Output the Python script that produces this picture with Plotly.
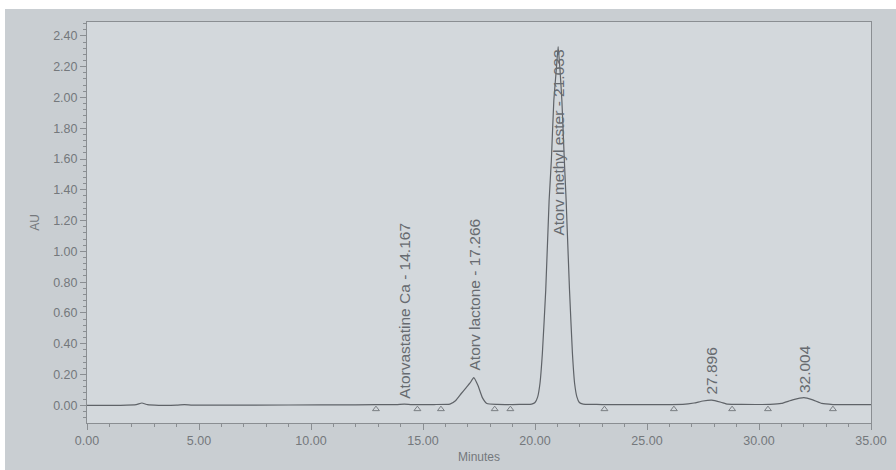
import plotly.graph_objects as go

# Chromatogram trace (minutes, AU)
time_min = [0.0, 1.5, 2.2, 2.45, 2.7, 3.2, 4.0, 4.35, 4.7, 6.0, 9.0, 12.0, 13.8, 14.167, 14.5,
            15.5, 16.2, 16.45, 16.7, 16.9, 17.1, 17.266, 17.45, 17.65, 17.85, 18.3, 19.0, 19.6,
            19.85, 20.0, 20.12, 20.22, 20.33, 20.48, 20.63, 20.73, 20.84, 20.95, 21.033, 21.12, 21.2, 21.31,
            21.39, 21.54, 21.67, 21.77, 21.87, 21.98, 22.15, 22.5, 23.0, 25.0, 26.6, 27.1, 27.5, 27.896, 28.3, 28.6,
            29.2, 30.5, 31.0, 31.5, 32.004, 32.4, 32.8, 33.3, 34.0, 35.0]
absorbance_au = [0.0, 0.0, 0.004, 0.015, 0.004, 0.0, 0.001, 0.005, 0.001, 0.001, 0.002, 0.003, 0.005, 0.008, 0.005,
                 0.005, 0.008, 0.03, 0.075, 0.11, 0.145, 0.18, 0.13, 0.05, 0.012, 0.006, 0.005, 0.006,
                 0.008, 0.018, 0.055, 0.14, 0.34, 0.75, 1.33, 1.59, 1.98, 2.18, 2.33, 2.17, 1.98, 1.59,
                 1.33, 0.75, 0.34, 0.14, 0.055, 0.018, 0.008, 0.006, 0.005, 0.005, 0.006, 0.015, 0.028, 0.033, 0.02, 0.008,
                 0.006, 0.006, 0.012, 0.035, 0.05, 0.035, 0.012, 0.005, 0.004, 0.004]

# Integration baseline markers (minutes)
marker_times = [12.9, 14.75, 15.8, 18.2, 18.9, 23.1, 26.2, 28.8, 30.4, 33.3]

# Peak labels
peak_labels = ["Atorvastatine Ca - 14.167", "Atorv lactone - 17.266", "Atorv methyl ester - 21.033",
               "27.896", "32.004"]
label_x = [14.2, 17.3, 21.03, 27.87, 32.0]
label_y = [0.03, 0.21, 1.09, 0.055, 0.065]

x_ticks = [0, 5, 10, 15, 20, 25, 30, 35]
y_ticks = [0.0, 0.2, 0.4, 0.6, 0.8, 1.0, 1.2, 1.4, 1.6, 1.8, 2.0, 2.2, 2.4]

ink = "#676b70"
font_family = "Liberation Sans, Arial, sans-serif"

fig = go.Figure()
fig.add_trace(go.Scatter(x=time_min, y=absorbance_au, mode="lines",
                         line=dict(color="#5f6368", width=1.2, shape="spline", smoothing=0.4),
                         hoverinfo="skip", showlegend=False))
fig.add_trace(go.Scatter(x=marker_times, y=[-0.025] * len(marker_times), mode="markers",
                         marker=dict(symbol="triangle-up-open", size=6, color="#7a7e83",
                                     line=dict(width=1, color="#7a7e83")),
                         hoverinfo="skip", showlegend=False))

for txt, lx, ly in zip(peak_labels, label_x, label_y):
    fig.add_annotation(x=lx, y=ly, text=txt, textangle=-90, showarrow=False,
                       xanchor="center", yanchor="bottom",
                       font=dict(family=font_family, size=15.5, color=ink))

axis_common = dict(showline=True, linecolor="#8a8e92", linewidth=1, mirror=True, automargin=False,
                   showgrid=False, zeroline=False, ticks="outside", tickcolor="#8a8e92",
                   tickfont=dict(family=font_family, size=12.5, color="#74787c"))

fig.update_xaxes(range=[0, 35], tickvals=x_ticks, ticktext=[f"{v:.2f}" for v in x_ticks],
                 ticklen=6, minor=dict(dtick=1, tick0=0, ticks="outside", ticklen=3, tickcolor="#8a8e92"),
                 title=dict(text="Minutes", font=dict(family=font_family, size=12, color="#74787c"),
                            standoff=5),
                 **axis_common)
fig.update_yaxes(range=[-0.115, 2.49], tickvals=y_ticks, ticktext=[f"{v:.2f}" for v in y_ticks],
                 ticklen=6, minor=dict(dtick=0.04, tick0=0, ticks="outside", ticklen=3, tickcolor="#8a8e92"),
                 title=dict(text="AU", font=dict(family=font_family, size=12, color="#74787c"),
                            standoff=10),
                 **axis_common)

plot_h = 470 - 22 - 47
plot_w = 896 - 87 - 25
fig.add_shape(type="rect", xref="paper", yref="paper",
              x0=-87 / plot_w - 0.01, x1=(896 - 87) / plot_w,
              y0=1 + (22 - 9) / plot_h, y1=1 + 22 / plot_h + 0.01,
              fillcolor="white", line=dict(width=0), layer="above")
fig.add_shape(type="rect", xref="paper", yref="paper",
              x0=-87 / plot_w - 0.01, x1=-82 / plot_w,
              y0=-47 / plot_h - 0.01, y1=1 + 22 / plot_h + 0.01,
              fillcolor="white", line=dict(width=0), layer="above")

fig.update_layout(width=896, height=470, margin=dict(l=87, r=25, t=22, b=47),
                  paper_bgcolor="#c9ced2", plot_bgcolor="#d3d8dc",
                  font=dict(family=font_family, color=ink))

fig.write_html("out.html", config={"displayModeBar": False},
               post_script="document.body.style.margin='0px';document.body.style.overflow='hidden';")
